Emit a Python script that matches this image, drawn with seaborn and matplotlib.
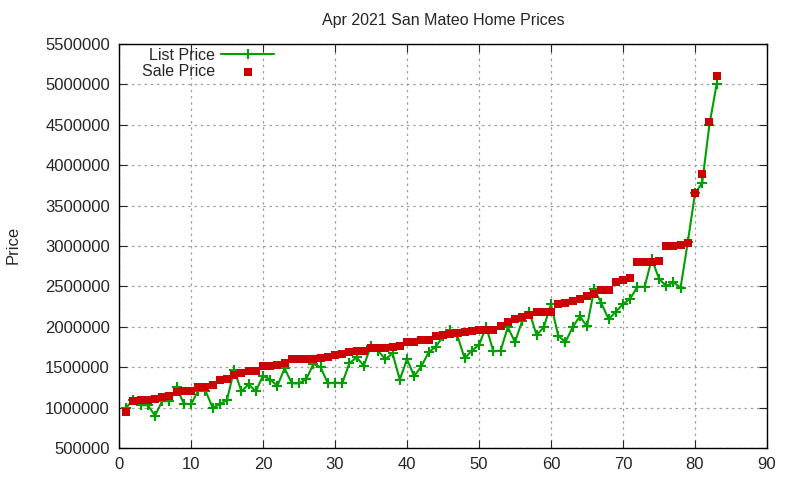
import pandas as pd
import matplotlib
matplotlib.use("Agg")
import matplotlib.pyplot as plt
import seaborn as sns

# values (index 1..83)
sale_price = [
    950000, 1085000, 1090000, 1090000, 1110000, 1135000, 1145000, 1190000, 1205000, 1205000,
    1255000, 1255000, 1280000, 1340000, 1355000, 1405000, 1425000, 1455000, 1455000, 1510000,
    1510000, 1525000, 1550000, 1600000, 1600000, 1600000, 1600000, 1610000, 1630000, 1645000,
    1665000, 1685000, 1700000, 1700000, 1735000, 1735000, 1735000, 1745000, 1760000, 1815000,
    1815000, 1840000, 1840000, 1880000, 1895000, 1905000, 1920000, 1940000, 1950000, 1960000,
    1960000, 1965000, 2010000, 2055000, 2100000, 2125000, 2140000, 2185000, 2185000, 2185000,
    2285000, 2300000, 2320000, 2350000, 2380000, 2410000, 2455000, 2455000, 2555000, 2580000,
    2600000, 2800000, 2800000, 2800000, 2820000, 3005000, 3005000, 3015000, 3040000, 3650000,
    3890000, 4530000, 5100000,
]
list_price = [
    1000000, 1100000, 1030000, 1030000, 900000, 1080000, 1080000, 1250000, 1050000, 1040000,
    1210000, 1210000, 1000000, 1040000, 1095000, 1470000, 1200000, 1290000, 1200000, 1395000,
    1345000, 1270000, 1485000, 1300000, 1300000, 1350000, 1540000, 1500000, 1300000, 1310000,
    1300000, 1550000, 1620000, 1520000, 1765000, 1700000, 1600000, 1670000, 1345000, 1600000,
    1390000, 1510000, 1685000, 1755000, 1880000, 1960000, 1890000, 1610000, 1705000, 1775000,
    2000000, 1695000, 1705000, 1995000, 1810000, 2075000, 2185000, 1895000, 1995000, 2280000,
    1890000, 1810000, 1995000, 2130000, 2005000, 2465000, 2290000, 2095000, 2185000, 2280000,
    2350000, 2495000, 2495000, 2840000, 2595000, 2505000, 2550000, 2485000, 3050000, 3650000,
    3780000, 4500000, 5000000,
]
x_ticks = list(range(0, 91, 10))
y_ticks = list(range(500000, 5500001, 500000))

df = pd.DataFrame({
    "n": range(1, len(sale_price) + 1),
    "list": list_price,
    "sale": sale_price,
})

sns.set_style("ticks")
plt.rcParams["font.family"] = ["Liberation Sans", "DejaVu Sans"]

fig = plt.figure(figsize=(8, 4.8), dpi=100)
ax = fig.add_axes([0.14875, 0.0667, 0.81, 0.8416])

sns.lineplot(data=df, x="n", y="list", ax=ax, color="#00a000", linewidth=1.5,
             marker="+", markersize=7, markeredgewidth=1.5, markeredgecolor="#00a000",
             label="List Price", zorder=2)
sns.scatterplot(data=df, x="n", y="sale", ax=ax, color="#cc0000", marker="s",
                s=38, linewidth=0, label="Sale Price", zorder=3)

ax.set_xlim(0, 90)
ax.set_ylim(500000, 5500000)
ax.set_xticks(x_ticks)
ax.set_yticks(y_ticks)
ax.set_yticklabels([str(v) for v in y_ticks])
ax.tick_params(direction="in", top=True, right=True, labelsize=12, length=6, pad=6.5)
ax.grid(True, color="#a0a0a0", linestyle=(0, (2, 3)), linewidth=0.9)
for s in ax.spines.values():
    s.set_color("black")
    s.set_linewidth(1)

ax.set_xlabel("")
ax.set_ylabel("")
fig.text(0.016, 0.49, "Price", rotation=90, fontsize=12, ha="center", va="center")
ax.set_title("Apr 2021 San Mateo Home Prices", fontsize=11.5, pad=14)

ax.legend(loc="upper left", bbox_to_anchor=(0.018, 1.018), markerfirst=False, frameon=False,
          fontsize=11.5, handlelength=3.3, handletextpad=0.4, labelspacing=0.08,
          borderaxespad=0.3)

plt.savefig("out.png", dpi=100)
